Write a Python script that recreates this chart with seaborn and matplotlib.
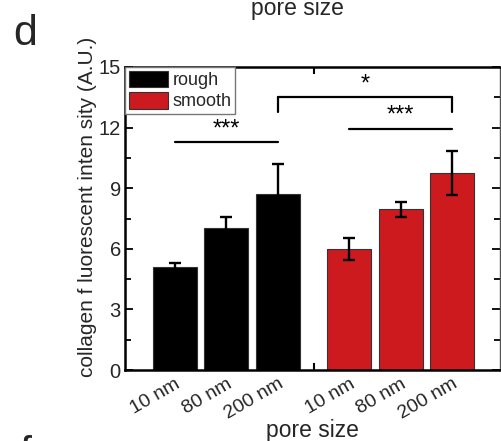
import numpy as np
import pandas as pd
import matplotlib
matplotlib.use("Agg")
import matplotlib.pyplot as plt
from matplotlib.patches import Patch
from matplotlib.ticker import MultipleLocator
import seaborn as sns

# ---- data ----
pore_sizes = ["10 nm", "80 nm", "200 nm"]
surfaces = ["rough", "smooth"]
rough_values = [5.08, 7.02, 8.72]
rough_errors = [0.24, 0.53, 1.48]
smooth_values = [6.00, 7.96, 9.74]
smooth_errors = [0.55, 0.38, 1.10]
sig_labels = ["***", "*", "***"]
y_ticks = [0, 3, 6, 9, 12, 15]

sns.set_theme(style="white")
plt.rcParams["font.family"] = ["Liberation Sans", "DejaVu Sans"]

# layout constants
group_step = 3.385
colors = {"rough": "#000000", "smooth": "#CC1A1F"}

rows = []
for g, (surf, vals, errs) in enumerate(zip(surfaces, [rough_values, smooth_values],
                                           [rough_errors, smooth_errors])):
    for i, (lab, v, e) in enumerate(zip(pore_sizes, vals, errs)):
        rows.append({"pos": g * group_step + i, "pore": lab, "surface": surf,
                     "value": v, "err": e})
df = pd.DataFrame(rows)

fig = plt.figure(figsize=(5.01, 4.41), dpi=100)
ax = fig.add_axes([125 / 501, 1 - 370 / 441, 375 / 501, 303 / 441])

sns.barplot(data=df, x="pos", y="value", hue="surface", palette=colors,
            native_scale=True, dodge=False, width=0.855, errorbar=None,
            saturation=1, edgecolor="#333333", linewidth=0.8, legend=False, ax=ax)
ax.errorbar(df["pos"], df["value"], yerr=df["err"], fmt="none",
            ecolor="black", elinewidth=1.7, capsize=4.3, capthick=1.7, zorder=5)

# significance markers
def hline(x1, x2, y, text, legs=None):
    ax.plot([x1, x2], [y, y], color="black", lw=1.6, zorder=6)
    if legs is not None:
        ax.plot([x1, x1], [y, legs], color="black", lw=1.6, zorder=6)
        ax.plot([x2, x2], [y, legs], color="black", lw=1.6, zorder=6)
    ax.text((x1 + x2) / 2, y + 0.1, text, ha="center", va="bottom",
            fontsize=17, color="black")

p = df["pos"].tolist()
hline(p[0], p[2], 11.27, sig_labels[0])
hline(p[2], p[5], 13.51, sig_labels[1], legs=12.79)
hline(p[3], p[5], 11.93, sig_labels[2])

ax.set_xlim(-0.965, 6.31)
ax.set_ylim(0, 15)
ax.set_yticks(y_ticks)
ax.yaxis.set_minor_locator(MultipleLocator(1.5))
ax.set_xticks(p)
ax.set_xticklabels(pore_sizes * 2, rotation=30, ha="right", va="top",
                   rotation_mode="anchor", fontsize=14)
sep = (p[2] + p[3]) / 2
ax.set_xticks([sep], minor=True)
ax.tick_params(axis="x", which="major", length=0, pad=4)
ax.tick_params(axis="x", which="minor", direction="in", length=5, width=1.5,
               top=True, bottom=True, color="black")
ax.tick_params(axis="y", which="major", direction="in", length=6, width=1.3,
               left=True, right=True, labelsize=14.5, pad=3, color="black")
ax.tick_params(axis="y", which="minor", direction="in", length=4, width=1.3,
               left=True, right=True, color="black")

for side in ["left", "bottom", "top"]:
    ax.spines[side].set_color("black")
    ax.spines[side].set_linewidth(1.8)
ax.spines["right"].set_color("#555555")
ax.spines["right"].set_linewidth(1.0)

ax.set_xlabel("pore size", fontsize=16.5, labelpad=-3)
ax.set_ylabel("collagen f luorescent inten sity (A.U.)", fontsize=15)
ax.yaxis.set_label_coords(-0.075, 0.54)

handles = [Patch(facecolor=colors[s], edgecolor="#333333", linewidth=0.8, label=s)
           for s in surfaces]
leg = ax.legend(handles=handles, loc="upper left", bbox_to_anchor=(0, 1),
                borderaxespad=0, fontsize=13, handlelength=2.2, handleheight=1.05,
                labelspacing=0.15, borderpad=0.2, handletextpad=0.25,
                fancybox=False, framealpha=1)
leg.get_frame().set_edgecolor("#777777")
leg.get_frame().set_linewidth(1.0)

fig.text(297 / 501, 1 - 15 / 441, "pore size", ha="center", va="baseline", fontsize=16.5)
fig.text(13 / 501, 1 - 45 / 441, "d", ha="left", va="baseline", fontsize=31)
fig.text(19 / 501, 1 - 466 / 441, "f", ha="left", va="baseline", fontsize=31)

fig.savefig("out.png", dpi=100)
